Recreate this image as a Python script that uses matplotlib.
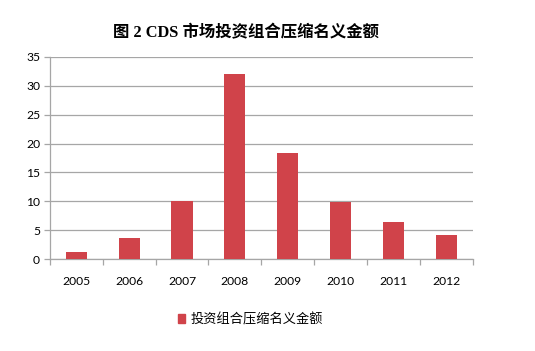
import matplotlib.pyplot as plt
from matplotlib.patches import Patch

plt.rcParams['font.family'] = ['Lato', 'Noto Sans CJK SC', 'DejaVu Sans']

years = ['2005', '2006', '2007', '2008', '2009', '2010', '2011', '2012']
amounts = [1.3, 3.6, 10.0, 32.0, 18.3, 9.8, 6.4, 4.1]
series_name = '投资组合压缩名义金额'
title = '图 2 CDS 市场投资组合压缩名义金额'

bar_color = '#D0434A'
grid_color = '#A6A6A6'

fig = plt.figure(figsize=(5.35, 3.51), dpi=100)
ax = fig.add_axes([0.093, 0.262, 0.791, 0.576])

x = list(range(len(years)))
ax.bar(x, amounts, width=0.4, color=bar_color, zorder=3)

ax.set_xlim(-0.5, len(years) - 0.5)
ax.set_ylim(0, 35)
ax.set_yticks(range(0, 36, 5))
ax.grid(axis='y', color=grid_color, linewidth=0.9, zorder=0)

# category ticks sit between bars, labels under bars
ax.set_xticks([i - 0.5 for i in range(len(years) + 1)])
ax.set_xticklabels([])
ax.set_xticks(x, minor=True)
ax.set_xticklabels(years, minor=True)
ax.tick_params(axis='x', which='major', length=4, color=grid_color, width=0.9)
ax.tick_params(axis='x', which='minor', length=0, pad=12, labelsize=8.7)
ax.tick_params(axis='y', length=4, color=grid_color, width=0.9, labelsize=8.7, pad=3)

for side in ['top', 'right']:
    ax.spines[side].set_visible(False)
for side in ['left', 'bottom']:
    ax.spines[side].set_color(grid_color)
    ax.spines[side].set_linewidth(0.9)

fig.text(0.46, 0.905, title, ha='center', va='center', fontsize=11.8,
         fontweight='bold', family=['Liberation Serif', 'Noto Sans CJK SC'])

fig.legend(handles=[Patch(color=bar_color, label=series_name)],
           loc='center', bbox_to_anchor=(0.468, 0.093), frameon=False,
           fontsize=9.5, handlelength=0.6, handleheight=0.6, handletextpad=0.4)

fig.savefig('out.png', dpi=100)
